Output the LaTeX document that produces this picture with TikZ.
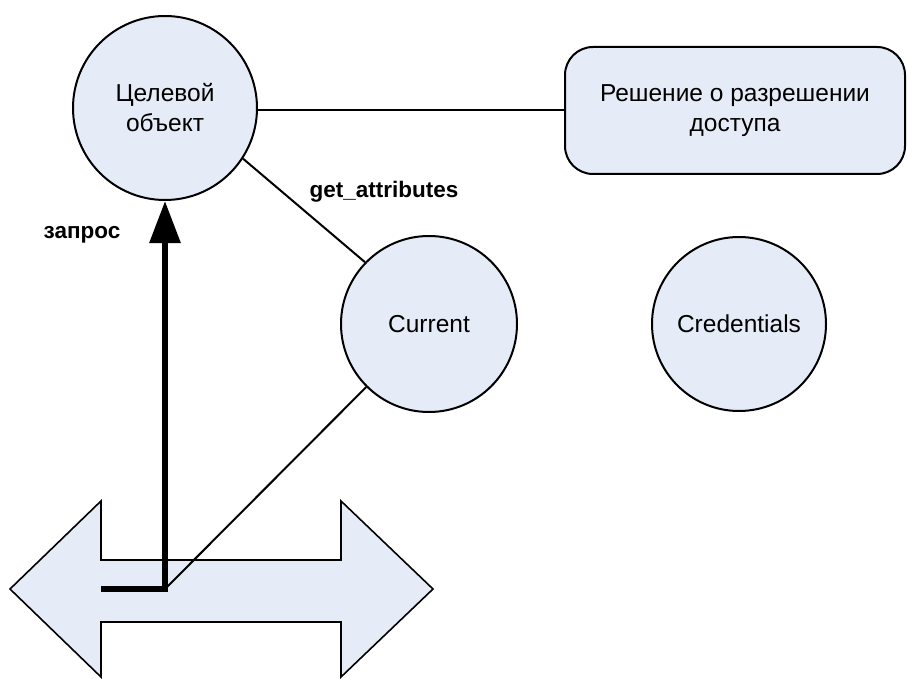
\documentclass[tikz,border=0pt]{standalone}
\usepackage{fontspec}
\setmainfont{Liberation Sans}
\usetikzlibrary{arrows.meta}
\definecolor{fillblue}{RGB}{230,236,247}
\tikzset{
  bubble/.style={circle, draw=black, fill=fillblue, line width=2pt, inner sep=0pt, align=center, font=\fontsize{24.5}{30}\selectfont},
  decision/.style={rectangle, rounded corners=28pt, draw=black, fill=fillblue, line width=2pt, inner sep=0pt, align=center, font=\fontsize{24.5}{30}\selectfont},
  conn/.style={draw=black, line width=2pt},
  thickarrow/.style={draw=black, line width=6pt, line join=miter, -{Triangle[length=42pt,width=30pt]}},
  lbl/.style={font=\fontsize{22.5}{26}\selectfont\bfseries, inner sep=0pt},
  dbl/.style={draw=black, fill=fillblue, line width=1.6pt, line join=miter}
}
\begin{document}
\begin{tikzpicture}[x=1pt,y=-1pt]
\useasboundingbox (0,0) rectangle (907,679);
% double arrow
\draw[dbl] (10,589) -- (101,501) -- (101,560) -- (341,560) -- (341,501) -- (433,589) -- (341,677) -- (341,622) -- (101,622) -- (101,677) -- cycle;
\coordinate (dstart) at (101,589);
\coordinate (corner) at (165,589);
\node[bubble, minimum size=184pt] (target) at (165,108) {Целевой\\объект};
\node[bubble, minimum size=176pt] (current) at (429,324) {Current};
\node[bubble, minimum size=174pt] (cred) at (739,324) {Credentials};
\node[decision, minimum width=340pt, minimum height=127pt] (decide) at (735,110.5) {Решение о разрешении\\доступа};
\draw[conn] (target.east |- decide.west) -- (decide.west);
\draw[conn] (target.-33) -- (current.136);
\draw[conn] (current) -- (corner);
\draw[thickarrow] (dstart) -- (corner) -- (target.south);
\node[lbl] (ga) at (384,192) {get\_attributes};
\node[lbl] (zapros) at (82,235) {запрос};
\end{tikzpicture}
\end{document}
